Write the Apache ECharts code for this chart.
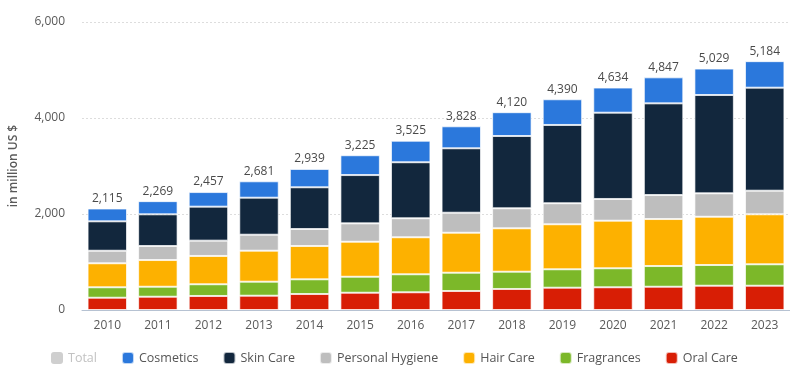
<!DOCTYPE html>
<html>
<head>
<meta charset="utf-8">
<script src="https://cdn.jsdelivr.net/npm/echarts@6/dist/echarts.min.js"></script>
<style>
  html, body { margin: 0; padding: 0; background: #fff; }
  #chart { width: 790px; height: 372px; }
</style>
</head>
<body>
<div id="chart"></div>
<script>
const years = ['2010', '2011', '2012', '2013', '2014', '2015', '2016', '2017', '2018', '2019', '2020', '2021', '2022', '2023']
const totals = [2115, 2269, 2457, 2681, 2939, 3225, 3525, 3828, 4120, 4390, 4634, 4847, 5029, 5184]
const oralCare = [256, 277, 292, 298, 333, 360, 369, 396, 438, 465, 473, 485, 506, 506]
const fragrances = [217, 208, 244, 292, 306, 333, 375, 381, 360, 383, 396, 431, 431, 446]
const hairCare = [500, 556, 590, 646, 694, 729, 771, 833, 904, 938, 992, 979, 1006, 1042]
const personalHygiene = [262, 292, 319, 333, 354, 383, 396, 417, 417, 438, 452, 500, 488, 492]
const skinCare = [612, 660, 708, 771, 869, 1006, 1167, 1342, 1506, 1631, 1798, 1910, 2048, 2146]
const cosmetics = [267, 275, 304, 341, 383, 413, 448, 458, 496, 535, 523, 542, 550, 552]

const font = '"Open Sans", sans-serif'
const chart = echarts.init(document.getElementById('chart'))

function stackSeries(name, data, color) {
  return {
    name,
    type: 'bar',
    stack: 'total',
    barWidth: '78%',
    data,
    itemStyle: { color, borderColor: 'rgba(255,255,255,0.7)', borderWidth: 1 },
  }
}

chart.setOption({
  animation: false,
  textStyle: { fontFamily: font },
  grid: { left: 81, top: 22, width: 715, height: 288, containLabel: false },
  legend: {
    bottom: 2,
    left: 46,
    icon: 'roundRect',
    itemWidth: 12,
    itemHeight: 12,
    itemGap: 24,
    textStyle: { color: '#555', fontSize: 12.5, fontFamily: font },
    data: [
      { name: 'Total', itemStyle: { color: '#cfcfcf' }, textStyle: { color: '#c2c2c2' } },
      'Cosmetics', 'Skin Care', 'Personal Hygiene', 'Hair Care', 'Fragrances', 'Oral Care',
    ],
    selectedMode: false,
  },
  xAxis: {
    type: 'category',
    data: years,
    axisLine: { lineStyle: { color: '#b6c2d2', width: 1 } },
    axisTick: { show: false },
    axisLabel: { color: '#595959', fontSize: 12, margin: 10 },
  },
  yAxis: {
    type: 'value',
    min: 0,
    max: 6000,
    interval: 2000,
    name: 'in million US $',
    nameLocation: 'middle',
    nameGap: 62,
    nameTextStyle: { color: '#595959', fontSize: 12, fontWeight: 600 },
    axisLabel: {
      color: '#595959',
      fontSize: 12,
      margin: 17,
      formatter: (v) => v.toLocaleString('en-US'),
    },
    splitLine: { lineStyle: { color: '#dddddd', type: [2, 2] } },
  },
  series: [
    stackSeries('Oral Care', oralCare, '#d81e05'),
    stackSeries('Fragrances', fragrances, '#7cb829'),
    stackSeries('Hair Care', hairCare, '#fdb100'),
    stackSeries('Personal Hygiene', personalHygiene, '#bebebe'),
    stackSeries('Skin Care', skinCare, '#12273d'),
    stackSeries('Cosmetics', cosmetics, '#2b78dc'),
    {
      name: 'Total',
      type: 'bar',
      stack: 'total',
      data: totals.map(() => 0),
      itemStyle: { color: '#cfcfcf' },
      label: {
        show: true,
        position: 'top',
        distance: 4,
        color: '#4a4a4a',
        fontSize: 12,
        formatter: (p) => totals[p.dataIndex].toLocaleString('en-US'),
      },
    },
  ],
})
</script>
</body>
</html>
